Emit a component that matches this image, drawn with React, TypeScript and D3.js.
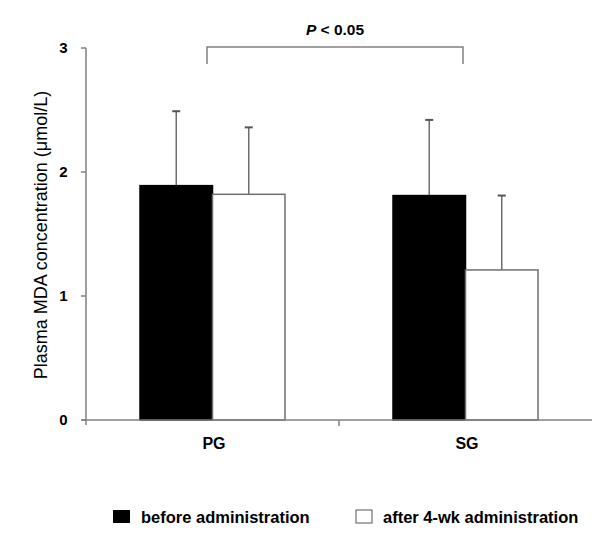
import React from 'react';
import * as d3 from 'd3';

const groups = ['PG', 'SG'];
const series = ['before administration', 'after 4-wk administration'];
const means = [
  [1.89, 1.82],
  [1.81, 1.21],
];
const sds = [
  [0.6, 0.54],
  [0.61, 0.6],
];
const yTicks = [0, 1, 2, 3];
const fills = ['#000000', '#ffffff'];

const WIDTH = 600;
const HEIGHT = 539;
const FONT = 'Arial, "Liberation Sans", Helvetica, sans-serif';
const AXIS = '#808080';

const App: React.FC = () => {
  const x = d3.scaleBand<string>().domain(groups).range([86, 592]);
  const y = d3.scaleLinear().domain([0, 3]).range([420, 48]);
  const inner = d3
    .scaleBand<string>()
    .domain(series)
    .range([54, x.bandwidth() - 54]);

  const mid = (g: string) => (x(g) ?? 0) + x.bandwidth() / 2;
  const y0 = y(0);

  return (
    <div style={{ position: 'absolute', left: 0, top: 0 }}>
      <svg width={WIDTH} height={HEIGHT} style={{ display: 'block', background: '#fff' }} fontFamily={FONT}>
        {/* bars + upper error bars */}
        {groups.map((g, gi) => (
          <g key={g} transform={`translate(${x(g)},0)`}>
            {series.map((s, si) => {
              const bx = inner(s) ?? 0;
              const bw = inner.bandwidth();
              const cx = bx + bw / 2;
              const top = y(means[gi][si]);
              const errTop = y(means[gi][si] + sds[gi][si]);
              return (
                <g key={s}>
                  <line x1={cx} x2={cx} y1={top} y2={errTop} stroke="#6e6e6e" strokeWidth={1.5} />
                  <line x1={cx - 4} x2={cx + 4} y1={errTop} y2={errTop} stroke="#555" strokeWidth={2} />
                  <rect
                    x={bx}
                    y={top}
                    width={bw}
                    height={y0 - top}
                    fill={fills[si]}
                    stroke={si === 0 ? '#000' : '#6e6e6e'}
                    strokeWidth={1.5}
                  />
                </g>
              );
            })}
          </g>
        ))}

        {/* y axis */}
        <line x1={86} x2={86} y1={y(3)} y2={y0 + 5} stroke={AXIS} strokeWidth={1.5} />
        {yTicks.map((t) => (
          <g key={t}>
            <line x1={81} x2={86} y1={y(t)} y2={y(t)} stroke={AXIS} strokeWidth={1.5} />
            <text x={67.5} y={y(t)} dy="0.36em" textAnchor="end" fontSize={15} fontWeight="bold">
              {t}
            </text>
          </g>
        ))}

        {/* x axis */}
        <line x1={82} x2={592} y1={y0} y2={y0} stroke={AXIS} strokeWidth={1.5} />
        {groups.slice(1).map((g) => (
          <line key={g} x1={x(g)} x2={x(g)} y1={y0} y2={y0 + 6} stroke={AXIS} strokeWidth={1.5} />
        ))}
        {groups.map((g) => (
          <text key={g} x={mid(g) + 1.5} y={449} textAnchor="middle" fontSize={16} fontWeight="bold">
            {g}
          </text>
        ))}

        {/* y label */}
        <text transform="translate(46.5,235) rotate(-90)" textAnchor="middle" fontSize={18}>
          Plasma MDA concentration (μmol/L)
        </text>

        {/* significance bracket */}
        <path
          d={`M${mid('PG') - 5.5},64 V47 H${mid('SG') - 2.5} V64`}
          fill="none"
          stroke={AXIS}
          strokeWidth={1.5}
        />
        <text x={335} y={35} textAnchor="middle" fontSize={15.5} fontWeight="bold">
          <tspan fontStyle="italic">P</tspan> &lt; 0.05
        </text>

        {/* legend */}
        <rect x={113} y={510} width={17} height={13} fill="#000" />
        <text x={141} y={523} fontSize={16.5} fontWeight="bold">
          {series[0]}
        </text>
        <rect x={356} y={510} width={16} height={13} fill="#fff" stroke="#555" strokeWidth={1} />
        <text x={383} y={523} fontSize={16.5} fontWeight="bold">
          {series[1]}
        </text>
      </svg>
    </div>
  );
};

export default App;
